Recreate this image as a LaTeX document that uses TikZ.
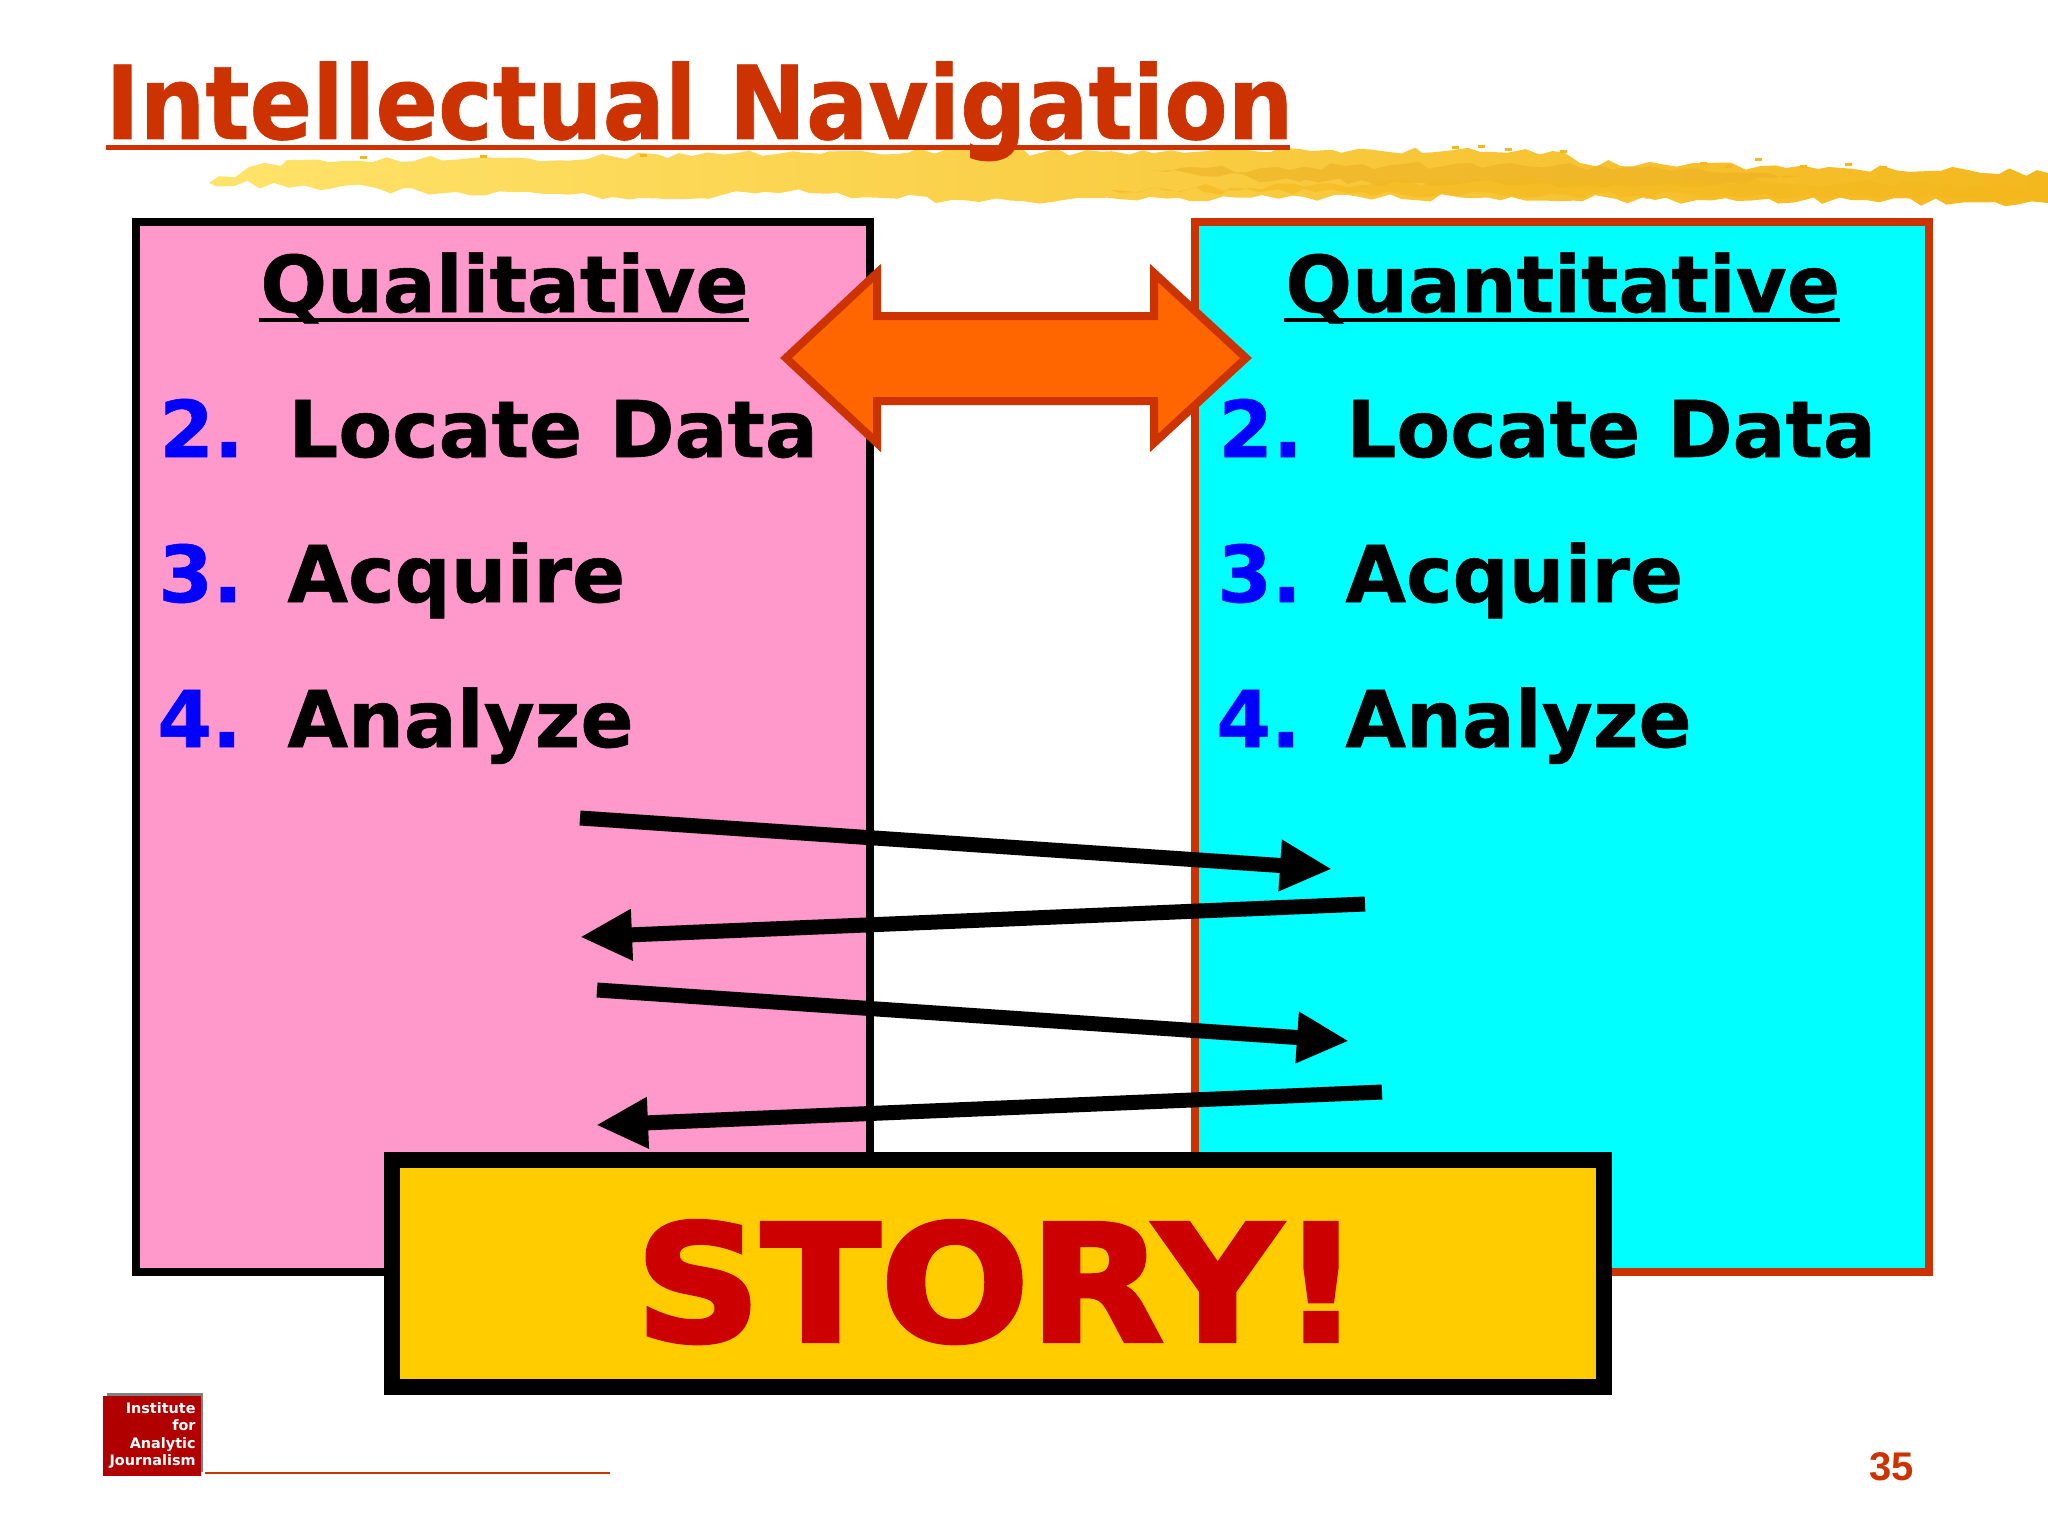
\documentclass[tikz,border=0pt]{standalone}
\usepackage{fontspec}
\setmainfont{DejaVu Sans}
\newfontfamily\heavyfont[BoldFeatures={FakeBold=.7}]{DejaVu Sans}
\newfontfamily\blackfont[BoldFeatures={FakeBold=2.5}]{DejaVu Sans}
\newfontfamily\pagefont{Liberation Sans}
\usetikzlibrary{arrows.meta,decorations.pathmorphing}
\definecolor{rustred}{HTML}{CC3300}
\definecolor{pinkbox}{HTML}{FF99CC}
\definecolor{cyanbox}{HTML}{00FFFF}
\definecolor{goldbox}{HTML}{FFCC00}
\definecolor{storyred}{HTML}{CC0000}
\definecolor{logored}{HTML}{B00000}
\definecolor{arroworange}{HTML}{FF6600}
\definecolor{listblue}{HTML}{0000FF}
\definecolor{brushlight}{HTML}{FFE36A}
\definecolor{brushmid}{HTML}{FFD22E}
\definecolor{brushdark}{HTML}{F4B81E}
\tikzset{
  panel/.style={line width=4pt,miter limit=10},
  heading/.style={anchor=base west,inner sep=0pt,font=\heavyfont\fontsize{39.2}{48}\selectfont\bfseries},
  number/.style={heading,text=listblue},
  entry/.style={heading},
  pass/.style={line width=7.5pt,-{Triangle[length=26pt,width=24pt]}},
  rough/.style={decorate,decoration={random steps,segment length=7pt,amplitude=2pt}}
}
\begin{document}
\begin{tikzpicture}[x=.5pt,y=-.5pt]
      \useasboundingbox (0,0) rectangle (2048,1536);
      \pgfmathsetseed{35}

      % brush stroke under the title
      \shade[rough,left color=brushlight,middle color=brushmid,right color=brushdark]
        (209,183) -- (287,160) -- (500,158) -- (692,156) -- (850,151) -- (1044,152) -- (1300,149) -- (1553,151)
        -- (1580,163) -- (1828,167) -- (2048,173) -- (2048,203) -- (1697,200) -- (1305,197) -- (979,202)
        -- (809,193) -- (613,197) -- (457,192) -- cycle;
      \fill[rough,brushdark!85!brown,opacity=.55]
        (1150,170) -- (1500,164) -- (1800,176) -- (1700,186) -- (1300,182) -- cycle;
      \fill[rough,brushdark,opacity=.6]
        (1110,190) -- (1500,180) -- (2000,185) -- (2040,198) -- (1500,195) -- cycle;
      \foreach \spotx/\spoty in {1452/146,1478/145,1505/148,1560/150,1700/162,1725/165,1755/158,1800/165,1845/163,1880/166,360/156,480/155,640/154}
        \fill[brushdark] (\spotx,\spoty) rectangle ++(7,3);

      \node[inner sep=0pt,anchor=base west,text=rustred,font=\heavyfont\fontsize{51}{60}\selectfont\bfseries] (title) at (105,139)
        {\scalebox{.905}[1]{Intellectual Navigation}};
      \draw[rustred,line width=2.8pt] (106,147.5) -- (1290,147.5);

      \draw[panel,fill=pinkbox] (136,222) rectangle (870,1272);
      \draw[panel,rustred,fill=cyanbox] (1195,222) rectangle (1929,1272);

      \draw[rustred,fill=arroworange,line width=4pt,miter limit=10]
        (786,358) -- (877,273) -- (877,316) -- (1154,316) -- (1154,273) -- (1246,358)
        -- (1154,443) -- (1154,401) -- (877,401) -- (877,443) -- cycle;

      \node[heading] (qualhead) at (260,312) {Qualitative};
      \draw[line width=1.8pt] (259,320) -- (749,320);
      \node[heading] (quanthead) at (1285,312) {Quantitative};
      \draw[line width=1.8pt] (1284,320) -- (1840,320);

      \node[number] (qualtwo) at (159,457) {2.};
      \node[number] (qualthree) at (158,602) {3.};
      \node[number] (qualfour) at (157,747) {4.};
      \node[entry] (quallocate) at (288,457) {Locate Data};
      \node[entry] (qualacquire) at (287,602) {Acquire};
      \node[entry] (qualanalyze) at (287,747) {Analyze};

      \node[number] (quanttwo) at (1218,457) {2.};
      \node[number] (quantthree) at (1217,602) {3.};
      \node[number] (quantfour) at (1216,747) {4.};
      \node[entry] (quantlocate) at (1346,457) {Locate Data};
      \node[entry] (quantacquire) at (1345,602) {Acquire};
      \node[entry] (quantanalyze) at (1345,747) {Analyze};

      \coordinate (a1) at (580,818);
      \coordinate (b1) at (1332,869);
      \coordinate (b2) at (1365,904);
      \coordinate (a2) at (580,937);
      \coordinate (a3) at (597,990);
      \coordinate (b3) at (1349,1041);
      \coordinate (b4) at (1382,1092);
      \coordinate (a4) at (596,1125);

      \draw[pass] (a1) -- (b1);
      \draw[pass] (b2) -- (a2);
      \draw[pass] (a3) -- (b3);
      \draw[pass] (b4) -- (a4);

      \draw[line width=8pt,fill=goldbox] (392,1160) rectangle (1604,1387);
      \node[inner sep=0pt,anchor=base,text=storyred,font=\blackfont\fontsize{81}{100}\selectfont\bfseries] (story) at (998,1341) {\scalebox{1.08}[1]{STORY!}};

      % logo and footer
      \fill[gray] (107,1393) rectangle (203,1472);
      \fill[logored] (103,1396) rectangle (201,1476);
      \node[inner sep=0pt,anchor=north east,align=right,text=white,font=\fontsize{7.2}{8.75}\selectfont\bfseries] (logo) at (196,1402)
        {Institute\\for\\Analytic\\Journalism};
      \draw[rustred,line width=1.2pt] (205,1473) -- (610,1473);
      \node[inner sep=0pt,anchor=base east,text=rustred,font=\pagefont\fontsize{20}{24}\selectfont\bfseries] (pagenum) at (1914,1480) {35};

    \end{tikzpicture}
\end{document}
